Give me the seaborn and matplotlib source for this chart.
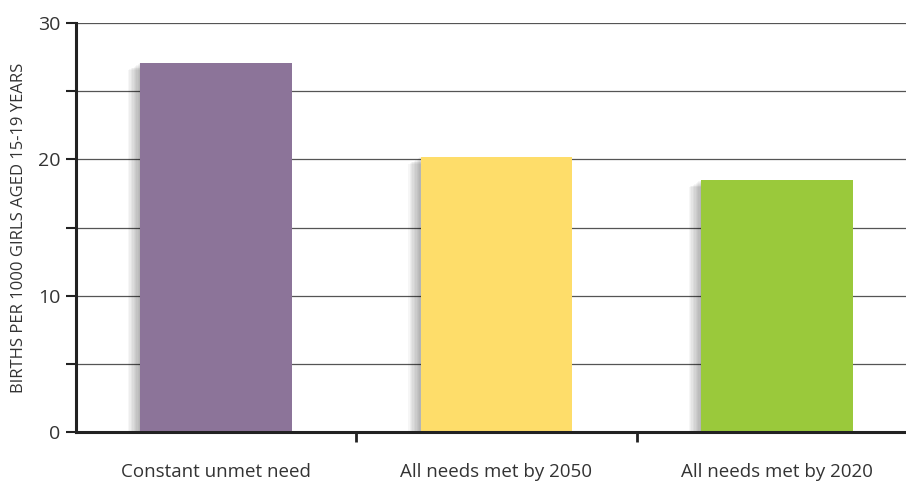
import matplotlib
matplotlib.use("Agg")
import matplotlib.pyplot as plt
import matplotlib.patheffects as pe
from matplotlib.ticker import MultipleLocator, FixedLocator
import seaborn as sns
import pandas as pd

categories = ["Constant unmet need", "All needs met by 2050", "All needs met by 2020"]
values = [27.1, 20.2, 18.5]
colors = ["#8C7499", "#FEDD6A", "#9AC93B"]
y_label = "BIRTHS PER 1000 GIRLS AGED 15-19 YEARS"

sns.set_theme(style="white")
plt.rcParams["font.family"] = ["Open Sans", "DejaVu Sans"]

df = pd.DataFrame({"scenario": categories, "births": values})

fig = plt.figure(figsize=(9.06, 4.82), dpi=100)
W, H = 906, 482
left, right, top, bottom = 76, 917, 23, 432
ax = fig.add_axes([left / W, 1 - bottom / H, (right - left) / W, (bottom - top) / H])

sns.barplot(data=df, x="scenario", y="births", hue="scenario", palette=colors,
            width=0.54, legend=False, ax=ax, saturation=1, zorder=3)

shadow = [pe.SimplePatchShadow(offset=(-k, -k * 0.6), shadow_rgbFace="#000000", alpha=0.035)
          for k in range(1, 10)]
for p in ax.patches:
    p.set_edgecolor("none")
    p.set_path_effects(shadow + [pe.Normal()])

ax.set_xlim(-0.5, 2.5)
ax.set_ylim(0, 30)
ax.yaxis.set_major_locator(MultipleLocator(10))
ax.yaxis.set_minor_locator(MultipleLocator(5))
ax.grid(True, axis="y", which="both", color="#555555", linewidth=0.9, zorder=0)
ax.grid(False, axis="x")
ax.set_axisbelow(True)

for s in ["top", "right"]:
    ax.spines[s].set_visible(False)
for s in ["left", "bottom"]:
    ax.spines[s].set_color("#222222")
    ax.spines[s].set_linewidth(2.2)
    ax.spines[s].set_zorder(5)

ax.tick_params(axis="y", which="both", direction="out", length=7, width=1.5, color="#222222",
               labelsize=14, labelcolor="#333333", pad=4, left=True)
ax.tick_params(axis="x", which="major", length=0, labelsize=13.5, labelcolor="#333333", pad=22)
ax.xaxis.set_minor_locator(FixedLocator([0.5, 1.5]))
ax.tick_params(axis="x", which="minor", direction="out", length=7, width=2, color="#222222", bottom=True)

ax.set_xlabel("")
ax.set_ylabel(y_label, fontsize=12, color="#333333", labelpad=8)

fig.savefig("out.png", dpi=100)
